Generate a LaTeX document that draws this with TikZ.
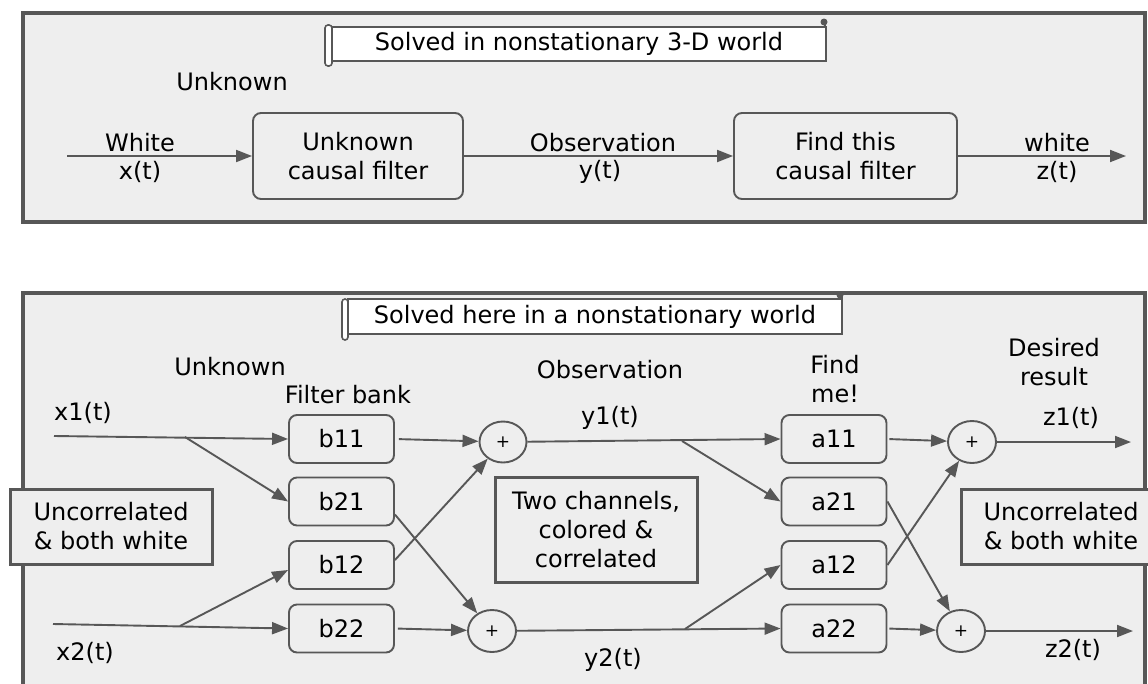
\documentclass[tikz,border=0pt]{standalone}
\usepackage{fontspec}
\setmainfont{DejaVu Sans}
\usetikzlibrary{arrows.meta,shapes.geometric}
\definecolor{lc}{HTML}{575757}
\definecolor{pf}{HTML}{EEEEEE}
\begin{document}
\begin{tikzpicture}[x=1pt,y=-1pt,
  txt/.style={font=\fontsize{24}{29}\selectfont, align=center, inner sep=0pt, text=black},
  fbox/.style={txt, draw=lc, line width=1.9pt, rounded corners=8pt, fill=pf},
  sbox/.style={txt, draw=lc, line width=3pt, fill=pf},
  titlebox/.style={txt, draw=lc, line width=1.9pt, fill=white},
  roll/.style={draw=lc, line width=1.6pt, fill=white, rounded corners=3pt},
  sum/.style={ellipse, draw=lc, line width=1.9pt, fill=pf, inner sep=0pt, font=\fontsize{17}{17}\selectfont},
  conn/.style={draw=lc, line width=1.9pt},
  arr/.style={conn, -{Triangle[length=16pt,width=12pt]}},
  panel/.style={draw=lc, line width=4pt, fill=pf}]
\useasboundingbox (0,0) rectangle (1148,683);
\fill[white] (0,0) rectangle (1148,683);

% ---------------- top panel ----------------
\draw[panel] (23,13) rectangle (1145,222);
\node[titlebox, minimum width=494pt, minimum height=34pt] (t1) at (579,44) {Solved in nonstationary 3-D world};
\draw[roll] (325,25) rectangle (332,66);
\draw[conn] (825,22) -- (825,27);
\fill[lc] (824,22) circle (3.5);

\node[txt] (unk1) at (232,82) {Unknown};
\node[fbox, minimum width=210pt, minimum height=86pt] (u1) at (358,156) {Unknown\\causal filter};
\node[fbox, minimum width=223pt, minimum height=86pt] (f1) at (845.5,156) {Find this\\causal filter};
\node[txt] (lw) at (140,143) {White};
\node[txt] (lx) at (140,172) {x(t)};
\node[txt] (lo) at (603,143) {Observation};
\node[txt] (ly) at (600,172) {y(t)};
\node[txt] (lwh) at (1057,143) {white};
\node[txt] (lz) at (1057,172) {z(t)};
\coordinate (xin) at (67,156);
\coordinate (zout) at (1126,156);
\draw[arr] (xin) -- (u1);
\draw[arr] (u1) -- (f1);
\draw[arr] (f1) -- (zout);

% ---------------- bottom panel ----------------
\draw[panel] (23,293) rectangle (1145,720);
\node[titlebox, minimum width=494pt, minimum height=35pt] (t2) at (595,316.5) {Solved here in a nonstationary world};
\draw[roll] (342,299) rectangle (348,340);
\draw[conn] (842,295) -- (842,299);
\fill[lc] (840,295) circle (3.5);

\node[txt] (unk2) at (230,367) {Unknown};
\node[txt] (fb) at (348,395) {Filter bank};
\node[txt] (obs) at (610,370) {Observation};
\node[txt] (fm) at (835,379) {Find\\me!};
\node[txt] (dr) at (1054,362) {Desired\\result};
\node[txt] (lx1) at (83,413) {x1(t)};
\node[txt] (lx2) at (85,653) {x2(t)};
\node[txt] (ly1) at (610,418) {y1(t)};
\node[txt] (ly2) at (613,660) {y2(t)};
\node[txt] (lz1) at (1071,418) {z1(t)};
\node[txt] (lz2) at (1073,650) {z2(t)};

\node[sbox, minimum width=202pt, minimum height=75pt] (uc1) at (111,526.5) {Uncorrelated\\\& both white};
\node[sbox, minimum width=200pt, minimum height=75pt] (uc2) at (1061,526.5) {Uncorrelated\\\& both white};
\node[sbox, minimum width=202pt, minimum height=105pt] (tc) at (596,529.5) {Two channels,\\colored \&\\correlated};

\foreach \n/\y in {11/439,21/501.5,12/565,22/628.5}{
  \node[fbox, minimum width=105pt, minimum height=48pt] (b\n) at (341.5,\y) {b\n};
  \node[fbox, minimum width=105pt, minimum height=48pt] (a\n) at (834,\y) {a\n};
}
\node[sum, minimum width=47pt, minimum height=41pt] (s1) at (503,442) {+};
\node[sum, minimum width=48pt, minimum height=42pt] (s2) at (492,631) {+};
\node[sum, minimum width=48pt, minimum height=42pt] (s3) at (972,442) {+};
\node[sum, minimum width=48pt, minimum height=42pt] (s4) at (961,631) {+};

\coordinate (x1s) at (54,436);
\coordinate (x1b) at (185,437);
\coordinate (x2s) at (53,624);
\coordinate (x2b) at (180,626);
\coordinate (y1b) at (682,441);
\coordinate (y2b) at (685,629);
\coordinate (z1e) at (1131,442);
\coordinate (z2e) at (1133,631);

\draw[arr] (x1s) -- (b11.west);
\draw[arr] (x1b) -- (b21.west);
\draw[arr] (x2s) -- (b22.west);
\draw[arr] (x2b) -- ([yshift=-5pt]b12.west);
\draw[arr, shorten <=4pt] (b11.east) -- (s1);
\draw[arr] ([yshift=5pt]b12.east) -- (s1);
\draw[arr] ([yshift=-13pt]b21.east) -- (s2);
\draw[arr, shorten <=3pt] (b22.east) -- (s2);
\draw[arr] (s1) -- (a11.west);
\draw[arr] (y1b) -- (a21.west);
\draw[arr] (s2) -- (a22.west);
\draw[arr] (y2b) -- (a12.west);
\draw[arr, shorten <=2pt] (a11.east) -- (s3);
\draw[arr] (a12.east) -- (s3);
\draw[arr] (a21.east) -- (s4);
\draw[arr, shorten <=2pt] (a22.east) -- (s4);
\draw[arr] (s3) -- (z1e);
\draw[arr] (s4) -- (z2e);
\end{tikzpicture}
\end{document}
